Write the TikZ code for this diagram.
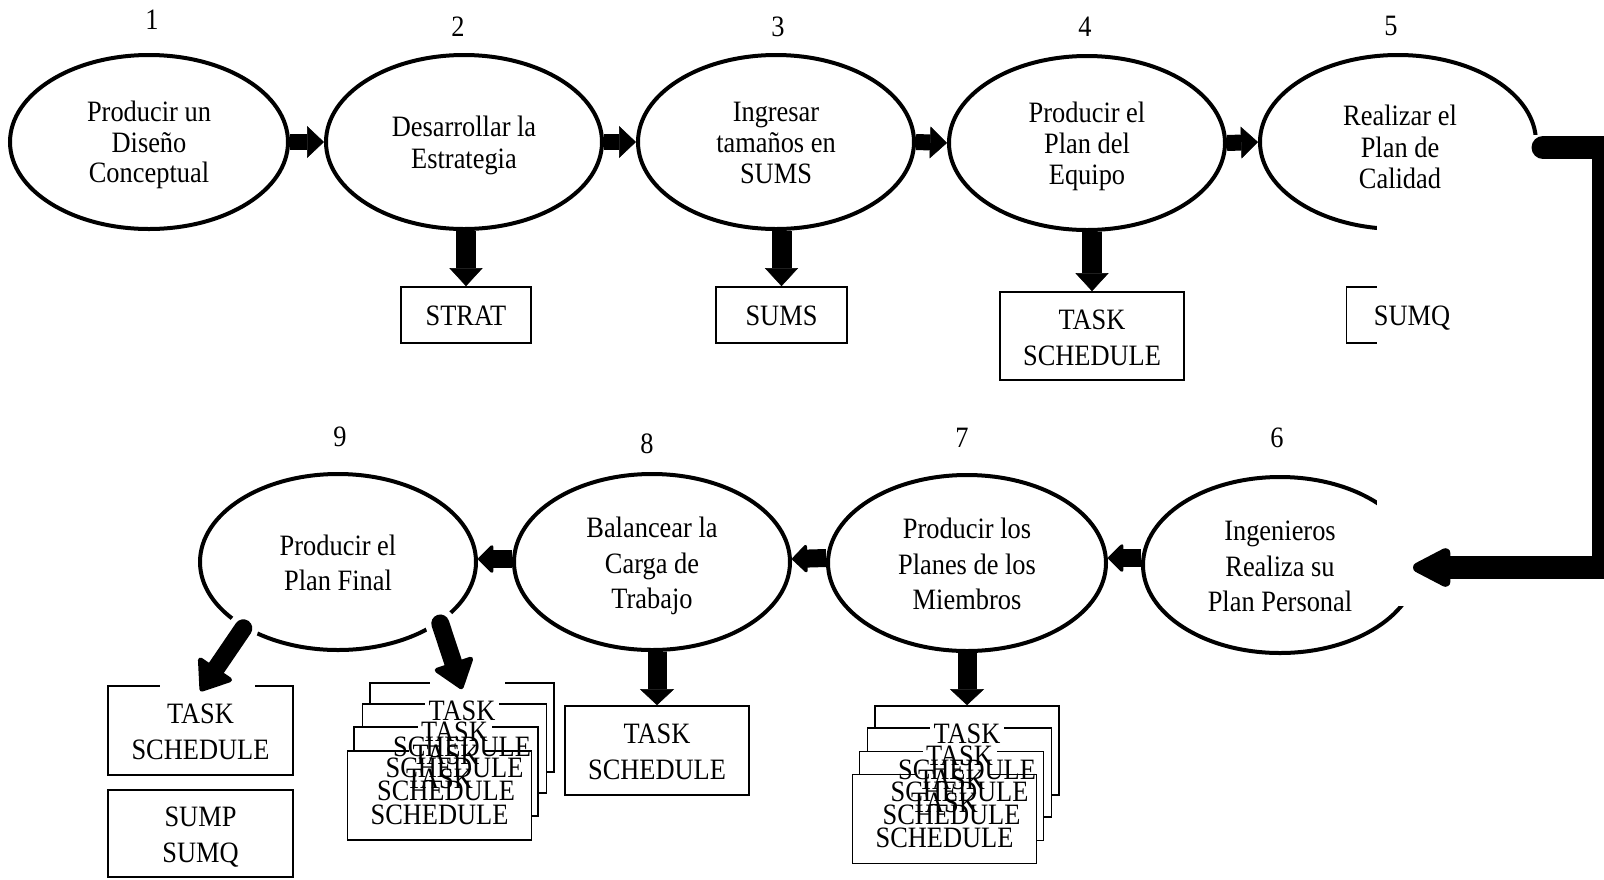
\documentclass[tikz,border=0pt]{standalone}
\usepackage{graphicx}
\usepackage{fontspec}
\setmainfont{Liberation Serif}
\usetikzlibrary{arrows.meta,shapes.geometric,calc}

% text block: fixed size, slightly stretched vertically, lines centred
\newcommand{\lbl}[2]{\raisebox{0pt}[\dimexpr\height+8pt\relax][\depth]{\scalebox{1}[1.12]{\fontsize{26.4}{#1}\selectfont\begin{tabular}{@{}c@{}}#2\end{tabular}}}}

\tikzset{
  ell/.style={ellipse, draw, line width=4pt, minimum width=276pt, minimum height=174pt, inner sep=0pt},
  ellb/.style={ell, minimum height=176pt},
  doc/.style={rectangle, draw, line width=1.6pt, fill=white, inner sep=0pt},
  taskdoc/.style={doc, minimum width=184pt, minimum height=89pt},
  plain/.style={inner sep=0pt},
  topflow/.style={line width=16pt, -{Triangle[width=32pt,length=17pt,line width'=0.5pt]}},
  botflow/.style={line width=18pt, -{Triangle[width=31pt,length=16pt,round,line width'=3pt]}},
  topdown/.style={line width=20pt, -{Triangle[width=33pt,length=18pt,line width'=0.5pt]}},
  botdown/.style={line width=19pt, -{Triangle[width=34pt,length=16pt,line width'=0.5pt]}},
  diag/.style={line width=18pt, line cap=round, -{Triangle[width=44pt,length=30pt,round,line width'=5pt]}},
  halo/.style={white, line width=30pt, line cap=round},
  bigflow/.style={line width=23pt, line cap=round, shorten >=-6pt, -{Triangle[width=42pt,length=44pt,round,line width'=10pt]}},
}

\begin{document}
\begin{tikzpicture}[x=1pt,y=-1pt]
\useasboundingbox (0,0) rectangle (1604,879);
\fill[white] (0,0) rectangle (1604,879);

% step numbers
\node[plain] (n1) at (152,19) {\lbl{27}{1}};
\node[plain] (n2) at (458,26) {\lbl{27}{2}};
\node[plain] (n3) at (778,26) {\lbl{27}{3}};
\node[plain] (n4) at (1085,26) {\lbl{27}{4}};
\node[plain] (n5) at (1391,25) {\lbl{27}{5}};
\node[plain] (n9) at (340,436) {\lbl{27}{9}};
\node[plain] (n8) at (647,443) {\lbl{27}{8}};
\node[plain] (n7) at (962,437) {\lbl{27}{7}};
\node[plain] (n6) at (1277,437) {\lbl{27}{6}};

% process steps, upper row
\node[ell, minimum width=278pt] (E1) at (149,142) {\lbl{27}{Producir un\\Diseño\\Conceptual}};
\node[ell] (E2) at (464,142) {\lbl{28.5}{Desarrollar la\\Estrategia}};
\node[ell] (E3) at (776,142) {\lbl{27.7}{Ingresar\\tamaños en\\SUMS}};
\node[ell] (E4) at (1087,143) {\lbl{27.7}{Producir el\\Plan del\\Equipo}};
\node[ell] (E5) at (1398,142) {};

% process steps, lower row
\node[ellb, minimum width=274pt] (E6) at (1280,565) {\lbl{31.3}{Ingenieros\\Realiza su\\Plan Personal}};
\node[ellb, minimum width=278pt] (E7) at (967,563) {\lbl{31.3}{Producir los\\Planes de los\\Miembros}};
\node[ellb] (E8) at (652,562) {\lbl{31.3}{Balancear la\\Carga de\\Trabajo}};
\node[ellb] (E9) at (338,562) {\lbl{31.3}{Producir el\\Plan Final}};

% outputs, upper row
\node[doc, minimum width=130pt, minimum height=56pt] (STRAT) at (466,315) {\lbl{30}{STRAT}};
\node[doc, minimum width=131pt, minimum height=56pt] (SUMS) at (781.5,315) {\lbl{30}{SUMS}};
\node[doc, minimum width=184pt, minimum height=88pt] (T4) at (1092,336) {\lbl{32}{TASK\\SCHEDULE}};
\node[doc, minimum width=131pt, minimum height=56pt] (SUMQ) at (1412,315) {};

% blank band on the right edge
\fill[white] (1377,135) rectangle (1590,606);
\node[plain] (E5t) at (1400,147) {\lbl{28}{Realizar el\\Plan de\\Calidad}};
\node[plain] (SUMQt) at (SUMQ) {\lbl{30}{SUMQ}};

% upper flow
\draw[topflow] (E1.east) -- (E2.west);
\draw[topflow] (E2.east) -- (E3.west);
\draw[topflow] (E3.east) -- (E4.west);
\draw[topflow] (E4.east) -- (E5.west);
\draw[topdown] (STRAT.north |- E2.south) -- (STRAT.north);
\draw[topdown] (SUMS.north |- E3.south) -- (SUMS.north);
\draw[topdown] (T4.north |- E4.south) -- (T4.north);

% return connector from step 5 to step 6
\coordinate (bstart) at (1543,147.5);
\coordinate (bc1) at (1603.5,147.5);
\coordinate (bc2) at (1603.5,567.5);
\draw[bigflow] (bstart) -- (bc1) -- (bc2) -- (bc2 -| E6.east);

% lower flow
\draw[botflow] ($(E6.west)+(0,-7)$) -- ($(E7.east)+(0,-5)$);
\draw[botflow] ($(E7.west)+(0,-5)$) -- ($(E8.east)+(0,-3)$);
\draw[botflow] ($(E8.west)+(0,-3)$) -- ($(E9.east)+(0,-3)$);

% outputs, lower row
\node[doc, minimum width=185pt, minimum height=89pt] (T9a) at (200.5,730.5) {\lbl{31.3}{TASK\\SCHEDULE}};
\node[doc, minimum width=185pt, minimum height=87pt] (SS9) at (200.5,833.5) {\lbl{31.3}{SUMP\\SUMQ}};
\node[taskdoc] (T8) at (657,750.5) {\lbl{31.3}{TASK\\SCHEDULE}};

% stacked schedules of step 9
\node[taskdoc] (S9A) at (462,727.5) {};
\node[taskdoc] (S9B) at (454.5,748.5) {};
\node[taskdoc] (S9C) at (446,771.5) {};
\node[taskdoc] (S9D) at (439.5,795.5) {};
% stacked schedules of step 7
\node[taskdoc] (S7A) at (967,750.5) {};
\node[taskdoc] (S7B) at (959.5,772.5) {};
\node[taskdoc] (S7C) at (951.5,796) {};
\node[taskdoc] (S7D) at (944.5,819) {};

% white backing of the TASK words
\foreach \b in {S9A,S9B,S9C,S7A,S7B,S7C}{
  \fill[white] ($(\b)+(-37,-27)$) rectangle ($(\b)+(37,-10)$);
}
\foreach \b in {S9A,S9B,S9C,S9D,S7A,S7B,S7C,S7D}{
  \node[plain] (\b t) at (\b) {\lbl{31.3}{TASK\\SCHEDULE}};
}

% openings in the box tops under the slanted arrows
\fill[white] (160,683) rectangle (255,689);
\fill[white] (430,680) rectangle (505,686);

% slanted outputs of step 9
\draw[halo] (E9.215) -- ($(E9.215)!10pt!([yshift=-6pt]T9a.north)$);
\draw[halo] (E9.329) -- ($(E9.329)!10pt!([yshift=-7pt]S9A.north)$);
\draw[diag] (E9.215) -- ([yshift=-6pt]T9a.north);
\draw[diag] (E9.329) -- ([yshift=-7pt]S9A.north);

% straight outputs of steps 8 and 7
\draw[botdown] (T8.north |- E8.south) -- (T8.north);
\draw[botdown] (S7A.north |- E7.south) -- (S7A.north);
\end{tikzpicture}
\end{document}
